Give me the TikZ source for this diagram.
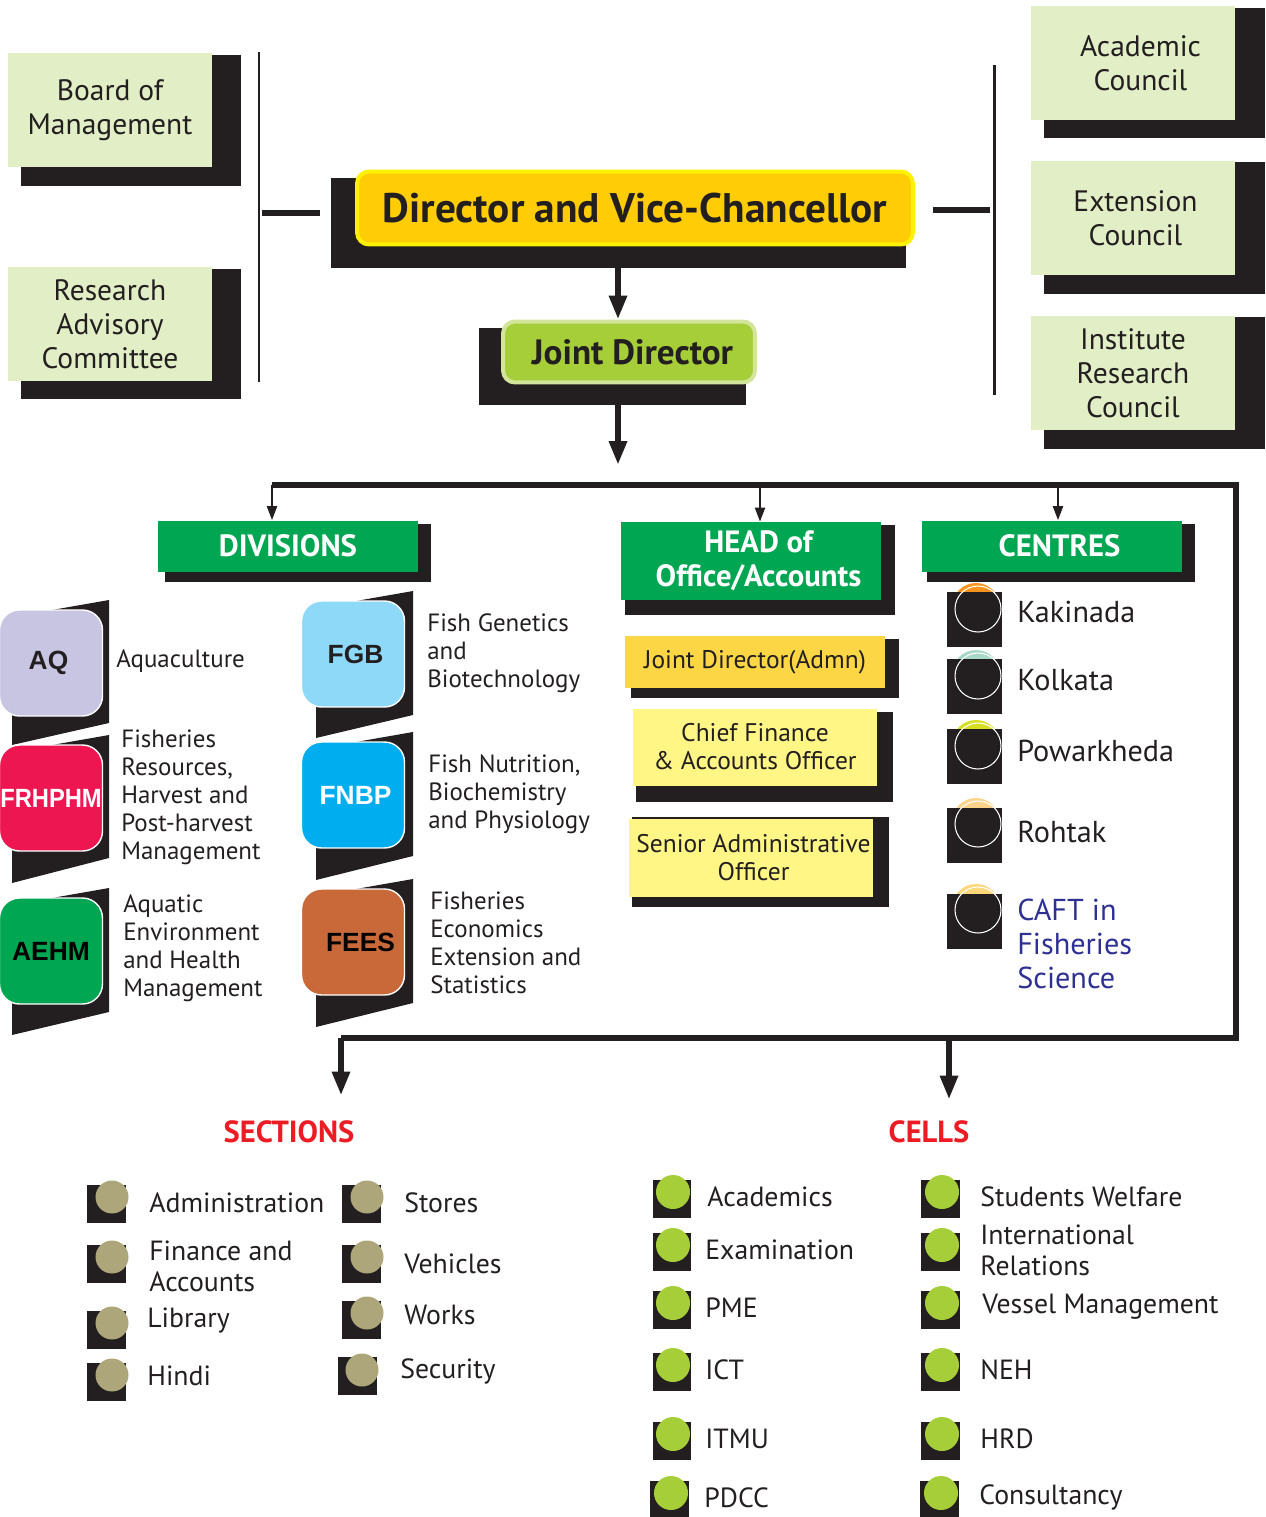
\documentclass[tikz,border=0pt]{standalone}
\usepackage{fontspec}
\setmainfont{PT Sans}
\newfontfamily\arialfont{Liberation Sans}
\usetikzlibrary{arrows.meta,positioning}

\definecolor{ink}{HTML}{231F20}
\definecolor{leaf}{HTML}{E1EEC6}
\definecolor{gold}{HTML}{FFCC05}
\definecolor{lemon}{HTML}{FFF200}
\definecolor{apple}{HTML}{A6CE39}
\definecolor{appleedge}{HTML}{D2E59A}
\definecolor{grass}{HTML}{00A651}
\definecolor{lavender}{HTML}{C8C5E2}
\definecolor{crimson}{HTML}{ED1651}
\definecolor{sky}{HTML}{8ED8F8}
\definecolor{azure}{HTML}{00AEEF}
\definecolor{rust}{HTML}{C9693A}
\definecolor{amber}{HTML}{FDD645}
\definecolor{butter}{HTML}{FFF685}
\definecolor{alarm}{HTML}{ED1C24}
\definecolor{khaki}{HTML}{ACA67A}
\definecolor{navyblue}{HTML}{2E3192}
\definecolor{capkak}{HTML}{F7941D}
\definecolor{capkol}{HTML}{A8D8C8}
\definecolor{cappow}{HTML}{D7DF23}
\definecolor{caproh}{HTML}{FBD38B}
\definecolor{capcaft}{HTML}{FDD77A}

\begin{document}
\begin{tikzpicture}[x=0.02cm,y=-0.02cm,
  council/.style={fill=leaf,text=ink,align=center,inner sep=0pt,minimum width=4.08cm,minimum height=2.28cm,font=\fontsize{16.8}{19.3}\selectfont},
  head/.style={fill=grass,text=white,align=center,inner sep=0pt,minimum width=5.2cm,font=\bfseries\fontsize{17.5}{19.3}\selectfont},
  badge/.style={draw=white,line width=0.8pt,rounded corners=0.4cm,minimum width=2.06cm,minimum height=2.12cm,inner sep=0pt,font=\arialfont\bfseries\fontsize{15}{18}\selectfont},
  desc/.style={anchor=west,align=left,inner sep=0pt,text=ink,font=\fontsize{14.2}{15.9}\selectfont},
  office/.style={text=ink,align=center,inner sep=0pt,font=\fontsize{14.5}{15.9}\selectfont},
  centre/.style={anchor=west,align=left,inner sep=0pt,text=ink,font=\fontsize{17.2}{19.3}\selectfont},
  item/.style={anchor=west,align=left,inner sep=0pt,text=ink,font=\fontsize{15.8}{17.6}\selectfont},
  title/.style={text=alarm,inner sep=0pt,font=\bfseries\fontsize{17.4}{20}\selectfont},
  bar/.style={ink,line width=1.7pt},
  fat/.style={ink,line width=3.4pt},
  thinarrow/.style={ink,line width=1.2pt,-{Triangle[width=0.2cm,length=0.28cm]}},
  fatarrow/.style={fat,-{Triangle[width=0.34cm,length=0.48cm]}}]

\useasboundingbox (0,0) rectangle (1265,1517);

% shadows
\fill[ink] (21,55) rectangle (241,186);
\fill[ink] (21,269) rectangle (241,399);
\fill[ink] (1044,8) rectangle (1265,138);
\fill[ink] (1044,162) rectangle (1265,294);
\fill[ink] (1044,317) rectangle (1265,449);
\fill[ink] (331,178) rectangle (906,268);
\fill[ink] (479,328) rectangle (746,405);
\fill[ink] (165,524) rectangle (431,582);
\fill[ink] (625,525) rectangle (895,615);
\fill[ink] (927,524) rectangle (1195,582);
\fill[ink] (631,639) rectangle (899,698);
\fill[ink] (636,712) rectangle (893,802);
\fill[ink] (632,817) rectangle (889,907);

% top level
\node[council] (bom) at (110,110) {Board of\\Management};
\node[council] (rac) at (110,324) {Research\\Advisory\\Committee};
\node[council] (ac) at (1133,63) {\hspace{0.3cm}Academic\\\hspace{0.3cm}Council};
\node[council] (ec) at (1133,218) {\hspace{0.1cm}Extension\\\hspace{0.1cm}Council};
\node[council] (irc) at (1133,373) {Institute\\Research\\Council};

\node[fill=gold,draw=lemon,line width=0.08cm,rounded corners=0.24cm,minimum width=11.12cm,minimum height=1.46cm,inner sep=0pt,text=ink,font=\bfseries\fontsize{23.5}{26}\selectfont] (dvc) at (635,208) {Director and Vice-Chancellor};
\node[fill=apple,draw=appleedge,line width=0.08cm,rounded corners=0.24cm,minimum width=5.04cm,minimum height=1.22cm,inner sep=0pt,text=ink,font=\bfseries\fontsize{20}{22}\selectfont] (jd) at (629,352) {\hspace{0.14cm}Joint Director};

\coordinate (lt) at (259,52);
\coordinate (lb) at (259,382);
\coordinate (lm) at (262,213);
\coordinate (le) at (320,213);
\coordinate (rt) at (994,65);
\coordinate (rb) at (994,395);
\coordinate (rm) at (990,210);
\coordinate (re) at (933,210);
\draw[bar] (lt) -- (lb);
\draw[fat] (lm) -- (le);
\draw[bar] (rt) -- (rb);
\draw[fat] (rm) -- (re);

\coordinate (a1) at (618,268);
\coordinate (a2) at (618,405);
\coordinate (b0) at (618,485);
\draw[fatarrow] (a1) -- (a1 |- jd.north);
\draw[fatarrow,shorten >=0.4cm] (a2) -- (b0);

% branch lines
\coordinate (b1) at (272,485);
\coordinate (b2) at (1236,485);
\coordinate (b3) at (1236,1038);
\coordinate (b4) at (341,1038);
\coordinate (b5) at (949,1038);
\coordinate (h1) at (760,485);
\coordinate (c1) at (1058,485);
\draw[fat] (b1) -- (b2) -- (b3) -- (b4);

% headers
\node[head,minimum height=1.02cm] (div) at (288,546) {DIVISIONS};
\node[head,minimum height=1.56cm] (hoa) at (751,561) {\hspace{0.3cm}HEAD of\\\hspace{0.3cm}Office/Accounts};
\node[head,minimum height=1.02cm] (cen) at (1052,546) {\hspace{0.3cm}CENTRES};
\draw[thinarrow] (b1) -- (b1 |- div.north);
\draw[thinarrow] (h1) -- (h1 |- hoa.north);
\draw[thinarrow] (c1) -- (c1 |- cen.north);

% divisions
\fill[ink] (12,617) -- (109,600) -- (109,723) -- (12,745) -- cycle;
\fill[ink] (12,752) -- (109,735) -- (109,858) -- (12,883) -- cycle;
\fill[ink] (12,905) -- (109,888) -- (109,1012) -- (12,1035) -- cycle;
\fill[ink] (316,608) -- (413,591) -- (413,715) -- (316,738) -- cycle;
\fill[ink] (316,749) -- (413,732) -- (413,856) -- (316,880) -- cycle;
\fill[ink] (316,896) -- (413,879) -- (413,1003) -- (316,1027) -- cycle;

\node[badge,fill=lavender,text=ink] (aq) at (51,663) {\hspace{-0.1cm}AQ};
\node[badge,fill=crimson,text=white] (frh) at (51,798) {\scalebox{0.9}[1]{FRHPHM}};
\node[badge,fill=grass,text=black] (aehm) at (51,951) {AEHM};
\node[badge,fill=sky,text=ink] (fgb) at (353,654) {\hspace{0.1cm}FGB};
\node[badge,fill=azure,text=white] (fnbp) at (353,795) {\hspace{0.1cm}FNBP};
\node[badge,fill=rust,text=black] (fees) at (353,942) {\hspace{0.3cm}FEES};

\node[desc] (aqd) at (116,661) {Aquaculture};
\node[desc] (frhd) at (121,797) {Fisheries\\Resources,\\Harvest and\\Post-harvest\\Management};
\node[desc] (aehmd) at (123,948) {Aquatic\\Environment\\and Health\\Management};
\node[desc] (fgbd) at (427,653) {Fish Genetics\\and\\Biotechnology};
\node[desc] (fnbpd) at (428,794) {Fish Nutrition,\\Biochemistry\\and Physiology};
\node[desc] (feesd) at (430,943) {Fisheries\\Economics\\Extension and\\Statistics};

% head of office
\node[office,fill=amber,minimum width=5.22cm,minimum height=1.04cm] (jda) at (755,662) {Joint Director(Admn)};
\node[office,fill=butter,minimum width=4.88cm,minimum height=1.54cm] (cfa) at (755,747) {Chief Finance\\\&\ Accounts Officer};
\node[office,fill=butter,minimum width=4.9cm,minimum height=1.56cm] (sao) at (751,858) {\hspace{0.1cm}Senior Administrative\\\hspace{0.1cm}Officer};

% centres
\fill[capkak] (976,607) circle (24);
\fill[ink] (947,592) rectangle (1002,647);
\draw[white,line width=0.6pt] (978,609) circle (23);
\fill[capkol] (976,674) circle (24);
\fill[ink] (947,659) rectangle (1002,714);
\draw[white,line width=0.6pt] (978,676) circle (23);
\fill[cappow] (976,744) circle (24);
\fill[ink] (947,729) rectangle (1002,784);
\draw[white,line width=0.6pt] (978,746) circle (23);
\fill[caproh] (976,822) circle (24);
\fill[ink] (947,808) rectangle (1002,863);
\draw[white,line width=0.6pt] (978,824) circle (23);
\fill[capcaft] (976,908) circle (24);
\fill[ink] (947,894) rectangle (1002,949);
\draw[white,line width=0.6pt] (978,910) circle (23);

\node[centre] (kak) at (1017,612) {Kakinada};
\node[centre] (kol) at (1017,680) {Kolkata};
\node[centre] (pow) at (1017,751) {Powarkheda};
\node[centre] (roh) at (1017,832) {Rohtak};
\node[centre,text=navyblue] (caft) at (1017,944) {CAFT in\\Fisheries\\Science};

% sections and cells
\node[title] (sec) at (289,1132) {SECTIONS};
\node[title] (cel) at (929,1132) {CELLS};
\draw[fatarrow,shorten >=0.5cm] (b4) -- (b4 |- sec.north);
\draw[fatarrow,shorten >=0.42cm] (b5) -- (b5 |- cel.north);

\fill[ink] (87,1185) rectangle (126,1223); \fill[khaki] (112,1197) circle (16.5);
\fill[ink] (87,1245) rectangle (126,1283); \fill[khaki] (112,1257) circle (16.5);
\fill[ink] (87,1311) rectangle (126,1349); \fill[khaki] (112,1323) circle (16.5);
\fill[ink] (87,1363) rectangle (126,1401); \fill[khaki] (112,1375) circle (16.5);
\fill[ink] (342,1185) rectangle (381,1223); \fill[khaki] (367,1197) circle (16.5);
\fill[ink] (342,1245) rectangle (381,1283); \fill[khaki] (367,1257) circle (16.5);
\fill[ink] (342,1301) rectangle (381,1339); \fill[khaki] (367,1313) circle (16.5);
\fill[ink] (338,1357) rectangle (377,1395); \fill[khaki] (362,1370) circle (16.5);

\node[item] (adm) at (149,1203) {Administration};
\node[item] (fin) at (149,1266) {Finance and\\Accounts};
\node[item] (lib) at (147,1321) {Library};
\node[item] (hin) at (147,1376) {Hindi};
\node[item] (sto) at (404,1203) {Stores};
\node[item] (veh) at (404,1264) {Vehicles};
\node[item] (wor) at (404,1315) {Works};
\node[item] (secu) at (400,1371) {Security};

\fill[ink] (653,1180) rectangle (691,1218); \fill[apple] (673,1192) circle (17);
\fill[ink] (653,1233) rectangle (691,1271); \fill[apple] (673,1245) circle (17);
\fill[ink] (653,1291) rectangle (691,1329); \fill[apple] (673,1303) circle (17);
\fill[ink] (653,1353) rectangle (691,1391); \fill[apple] (673,1365) circle (17);
\fill[ink] (653,1422) rectangle (691,1460); \fill[apple] (673,1434) circle (17);
\fill[ink] (650,1481) rectangle (689,1517); \fill[apple] (671,1493) circle (17);
\fill[ink] (921,1180) rectangle (960,1218); \fill[apple] (942,1192) circle (17);
\fill[ink] (921,1233) rectangle (960,1271); \fill[apple] (942,1245) circle (17);
\fill[ink] (921,1291) rectangle (960,1329); \fill[apple] (942,1303) circle (17);
\fill[ink] (921,1353) rectangle (960,1391); \fill[apple] (942,1365) circle (17);
\fill[ink] (921,1422) rectangle (960,1460); \fill[apple] (942,1434) circle (17);
\fill[ink] (920,1481) rectangle (959,1517); \fill[apple] (941,1493) circle (17);

\node[item] (acad) at (707,1197) {Academics};
\node[item] (exam) at (705,1250) {Examination};
\node[item] (pme) at (705,1308) {PME};
\node[item] (ict) at (705,1370) {ICT};
\node[item] (itmu) at (705,1439) {ITMU};
\node[item] (pdcc) at (704,1498) {PDCC};
\node[item] (stw) at (980,1197) {Students Welfare};
\node[item] (intr) at (980,1250) {International\\Relations};
\node[item] (ves) at (982,1307) {Vessel Management};
\node[item] (neh) at (980,1370) {NEH};
\node[item] (hrd) at (980,1439) {HRD};
\node[item] (cons) at (979,1497) {Consultancy};
\end{tikzpicture}
\end{document}
